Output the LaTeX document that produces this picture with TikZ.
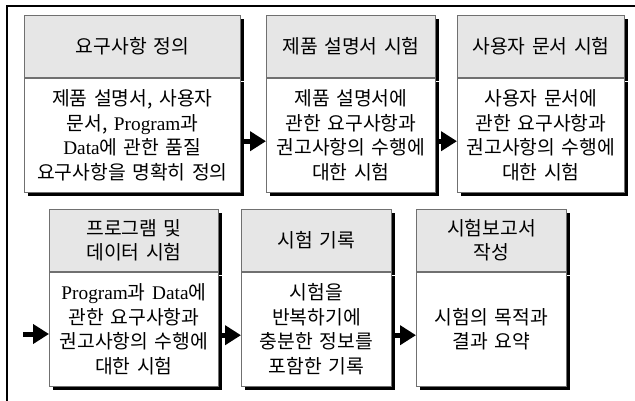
\documentclass[tikz,border=0pt]{standalone}
\usepackage{fontspec}
\setmainfont{Liberation Serif}
\newfontfamily\kr[WordSpace=1.5]{Noto Sans CJK KR}
\newcommand\lat[1]{{\rmfamily #1}}
\usetikzlibrary{arrows.meta,shadows,calc}
\definecolor{hdrgray}{HTML}{E6E6E6}
\definecolor{bordergray}{HTML}{707070}
\begin{document}
\begin{tikzpicture}[x=1pt,y=-1pt,
  boxbase/.style={draw=bordergray, line width=0.8pt, align=center, inner sep=0pt,
    font={\kr\fontsize{19.3}{24.5}\selectfont}, anchor=north west,
    drop shadow={shadow xshift=3.5pt, shadow yshift=-3.5pt, fill=black, opacity=1}},
  hdr/.style={boxbase, fill=hdrgray, minimum height=62pt},
  bdy/.style={boxbase, fill=white, minimum height=114pt},
  arr/.style={line width=5pt, -{Triangle[length=16pt,width=19pt]}},
  frame/.style={draw=black, line width=1.3pt}]
\useasboundingbox (0,0) rectangle (635,401);
\clip (0,0) rectangle (635,401);
\draw[frame] (7,6) rectangle (660,430);
% row 1
\node[hdr, minimum width=216pt] (h1) at (24,15) {요구사항 정의};
\node[bdy, minimum width=216pt] (b1) at (h1.south west) {제품 설명서, 사용자\\문서, \lat{Program}과\\\lat{Data}에 관한 품질\\요구사항을 명확히 정의};
\node[hdr, minimum width=169pt] (h2) at (266,15) {제품 설명서 시험};
\node[bdy, minimum width=169pt] (b2) at (h2.south west) {제품 설명서에\\관한 요구사항과\\권고사항의 수행에\\대한 시험};
\node[hdr, minimum width=167pt] (h3) at (457,15) {사용자 문서 시험};
\node[bdy, minimum width=167pt] (b3) at (h3.south west) {사용자 문서에\\관한 요구사항과\\권고사항의 수행에\\대한 시험};
% row 2
\node[hdr, minimum width=169pt] (h4) at (49,209) {프로그램 및\\데이터 시험};
\node[bdy, minimum width=169pt] (b4) at (h4.south west) {\lat{Program}과 \lat{Data}에\\관한 요구사항과\\권고사항의 수행에\\대한 시험};
\node[hdr, minimum width=150pt] (h5) at (241,209) {시험 기록};
\node[bdy, minimum width=150pt] (b5) at (h5.south west) {시험을\\반복하기에\\충분한 정보를\\포함한 기록};
\node[hdr, minimum width=150pt] (h6) at (416,209) {시험보고서\\작성};
\node[bdy, minimum width=150pt] (b6) at (h6.south west) {시험의 목적과\\결과 요약};
% connectors
\draw[arr] ($(b1.east)+(3.5,6)$) -- ($(b2.west)+(0,6)$);
\draw[arr] ($(b2.east)+(3.5,6)$) -- ($(b3.west)+(0,6)$);
\coordinate (in) at (23,334);
\draw[arr] (in) -- (in -| b4.west);
\draw[arr] ($(b4.east)+(3.5,6)$) -- ($(b5.west)+(0,6)$);
\draw[arr] ($(b5.east)+(3.5,6)$) -- ($(b6.west)+(0,6)$);
\end{tikzpicture}
\end{document}
